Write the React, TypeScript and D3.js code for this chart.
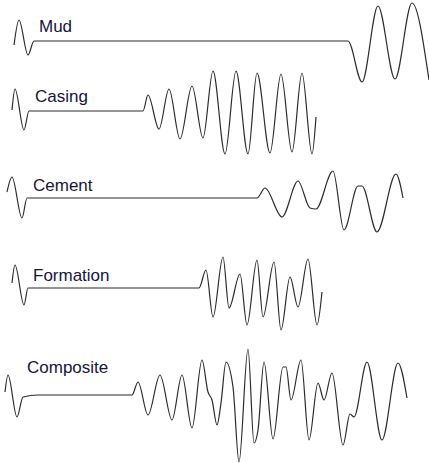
import * as d3 from 'd3';
import React, { useRef, useEffect } from 'react';

// waveform samples: [time (0.5px units), amplitude]
const mudWave = [[28, -4], [38, 21], [56, -14], [68, 0], [696, 0], [724, -41], [756, 35], [790, -38], [824, 38], [858, -39]];
const casingWave = [[24, 1], [30, 22], [48, -19], [58, 0], [286, 0], [296, 16], [318, -18], [338, 22], [360, -28], [384, 25], [406, -27], [426, 40], [450, -43], [472, 40], [496, -43], [514, 38], [540, -42], [562, 37], [584, -41], [604, 38], [624, -43], [632, -6]];
const cementWave = [[14, 6], [24, 21], [44, -20], [54, 0], [514, 0], [530, 10], [564, -19], [596, 17], [620, -10], [632, -11], [666, 27], [688, -32], [716, 12], [724, 12], [754, -34], [792, 24], [806, 0]];
const formationWave = [[24, 5], [30, 23], [48, -17], [56, 0], [398, 0], [412, 18], [426, -29], [446, 31], [458, -20], [480, 14], [494, -37], [514, 28], [526, -29], [548, 26], [562, -42], [580, 11], [596, -19], [616, 29], [634, -37], [644, -4]];
const compositeWave = [[10, 3], [16, 20], [34, -22], [46, -2], [76, 0], [264, 0], [276, 13], [296, -20], [320, 20], [344, -25], [364, 20], [384, -33], [404, 35], [416, 3], [424, -5], [434, -30], [442, -8], [452, 33], [466, 8], [478, -67], [496, 46], [508, -48], [516, -35], [528, 33], [546, -44], [566, 28], [572, 28], [582, -5], [602, 35], [618, -45], [636, 12], [648, -5], [664, 22], [686, -50], [700, -19], [708, -22], [734, 33], [764, -45], [796, 32], [814, -3]];

const labels = ['Mud', 'Casing', 'Cement', 'Formation', 'Composite'];
const waves = [mudWave, casingWave, cementWave, formationWave, compositeWave];

function App() {
    const ref = useRef(null);

    useEffect(() => {
        const svg = d3.select(ref.current);
        svg.selectAll('*').remove();
        draw(svg);
    }, []);

    const draw = (svg) => {
        const width = 429, height = 463;
        // baseline of each trace and label placement
        const base = [41, 111, 198, 288, 395];
        const labelX = [39, 35, 33, 33, 27];
        const labelY = [32, 102, 191, 281, 373];

        const x = d3.scaleLinear().domain([0, 858]).range([0, 429]);

        svg.attr('width', width).attr('height', height);
        svg.append('rect').attr('width', width).attr('height', height).attr('fill', '#fff');

        waves.forEach((w, i) => {
            const y = d3.scaleLinear().domain([-70, 70]).range([base[i] + 70, base[i] - 70]);
            const line = d3.line()
                .x(d => x(d[0]))
                .y(d => y(d[1]))
                .curve(d3.curveMonotoneX);

            svg.append('path')
                .datum(w)
                .attr('d', line)
                .attr('fill', 'none')
                .attr('stroke', '#2b2b2b')
                .attr('stroke-width', 1.2)
                .attr('stroke-linejoin', 'round');

            svg.append('text')
                .attr('x', labelX[i])
                .attr('y', labelY[i])
                .attr('font-family', 'Liberation Sans, Arial, sans-serif')
                .attr('font-size', '17px')
                .attr('fill', '#16163a')
                .text(labels[i]);
        });
    };

    return (
        <div style={{ position: 'absolute', left: 0, top: 0 }}>
            <svg ref={ref} style={{ display: 'block' }}></svg>
        </div>
    );
}

export default App;
